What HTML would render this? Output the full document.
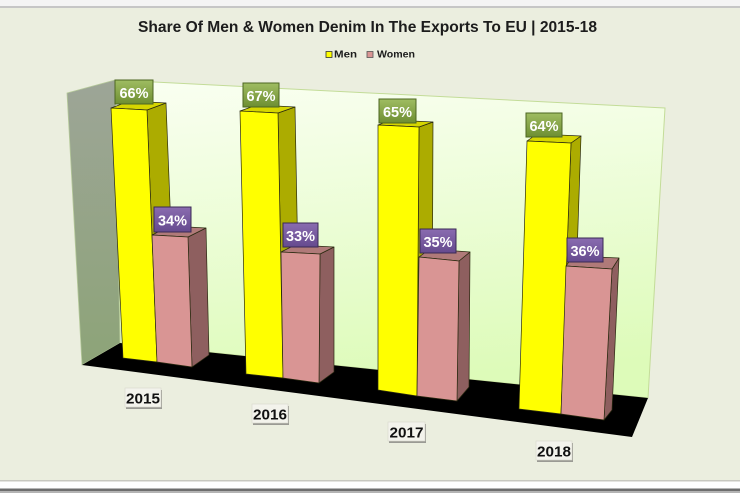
<!DOCTYPE html>
<html><head><meta charset="utf-8"><style>
html,body{margin:0;padding:0;background:#fff;}
svg{display:block;}
</style></head><body>
<svg width="740" height="493" viewBox="0 0 740 493" xmlns="http://www.w3.org/2000/svg" font-family="'Liberation Sans', sans-serif">
<defs>
<linearGradient id="bw" x1="0" y1="0" x2="0.15" y2="1">
<stop offset="0" stop-color="#fafff2"/><stop offset="1" stop-color="#ddfbb9"/>
</linearGradient>
<linearGradient id="lw" x1="0" y1="0" x2="0" y2="1">
<stop offset="0" stop-color="#9da597"/><stop offset="1" stop-color="#8da478"/>
</linearGradient>
<linearGradient id="gl" x1="0" y1="0" x2="0" y2="1">
<stop offset="0" stop-color="#9fbd62"/><stop offset="1" stop-color="#6e8e32"/>
</linearGradient>
<linearGradient id="pl" x1="0" y1="0" x2="0" y2="1">
<stop offset="0" stop-color="#8a6cb0"/><stop offset="1" stop-color="#654a8e"/>
</linearGradient>
</defs>
<!-- frame -->
<rect x="0" y="0" width="740" height="493" fill="#ffffff"/>
<rect x="0" y="0" width="740" height="6" fill="#f4f4f4"/>
<rect x="0" y="6" width="740" height="2" fill="#c6c6c6"/>
<rect x="0" y="8" width="740" height="472" fill="#ebeedf"/>
<rect x="0" y="480" width="740" height="1.5" fill="#c8c8c0"/>
<rect x="0" y="481.5" width="740" height="7" fill="#ffffff"/>
<rect x="0" y="488.5" width="740" height="2.5" fill="#6e6e6e"/>
<rect x="0" y="491" width="740" height="2" fill="#b4b4b4"/>

<!-- title -->
<text x="138" y="32" font-size="16" font-weight="bold" fill="#1c1c1c" textLength="459" lengthAdjust="spacingAndGlyphs">Share Of Men &amp; Women Denim In The Exports To EU | 2015-18</text>
<!-- legend -->
<rect x="326" y="51.5" width="6" height="6" fill="#ffff00" stroke="#333" stroke-width="0.8"/>
<text x="334" y="57.5" font-size="10" font-weight="bold" fill="#1c1c1c" textLength="23" lengthAdjust="spacingAndGlyphs">Men</text>
<rect x="367" y="51.5" width="6" height="6" fill="#d99594" stroke="#555" stroke-width="0.8"/>
<text x="377" y="57.5" font-size="10" font-weight="bold" fill="#1c1c1c" textLength="38" lengthAdjust="spacingAndGlyphs">Women</text>

<!-- walls -->
<polygon points="115,80 665,108 648,398 120,343" fill="url(#bw)" stroke="#c3dc98" stroke-width="1"/>
<polygon points="67,93 115,80 120,343 82,365" fill="url(#lw)" stroke="#b5c99a" stroke-width="0.8"/>
<polygon points="120,343 648,398 632,437 82,365" fill="#000"/>

<g stroke="#2a2a10" stroke-width="0.7" stroke-linejoin="round">
<!-- 2015 -->
<polygon points="147,110 166,103 176,355 157,362" fill="#acac00"/>
<polygon points="111,108 147,110 166,103 130,101" fill="#d6d600"/>
<polygon points="111,108 147,110 157,362 123,358" fill="#ffff00"/>
<polygon points="188,237 206,228 209,355 192,367" fill="#8e5f5f"/>
<polygon points="152,235 188,237 206,228 170,226" fill="#b07a79"/>
<polygon points="152,235 188,237 192,367 157,362" fill="#d99594"/>
<!-- 2016 -->
<polygon points="278,113 295,107 300,372 283,378" fill="#acac00"/>
<polygon points="240,111 278,113 295,107 257,105" fill="#d6d600"/>
<polygon points="240,111 278,113 283,378 246,374" fill="#ffff00"/>
<polygon points="320,254 334,247 334,372 319,383" fill="#8e5f5f"/>
<polygon points="281,252 320,254 334,247 295,245" fill="#b07a79"/>
<polygon points="281,252 320,254 319,383 283,378" fill="#d99594"/>
<!-- 2017 -->
<polygon points="419,127 433,122 432,388 417,396" fill="#acac00"/>
<polygon points="378,125 419,127 433,122 392,120" fill="#d6d600"/>
<polygon points="378,125 419,127 417,396 378,390" fill="#ffff00"/>
<polygon points="459,261 470,252 469,387 457,401" fill="#8e5f5f"/>
<polygon points="419,257 459,261 470,252 430,249" fill="#b07a79"/>
<polygon points="419,257 459,261 457,401 417,396" fill="#d99594"/>
<!-- 2018 -->
<polygon points="571,143 581,136 572,405 561,414" fill="#acac00"/>
<polygon points="527,141 571,143 581,136 537,134" fill="#d6d600"/>
<polygon points="527,141 571,143 561,414 519,409" fill="#ffff00"/>
<polygon points="612,269 619,258 612,410 604,420" fill="#8e5f5f"/>
<polygon points="566,266 612,269 619,258 573,256" fill="#b07a79"/>
<polygon points="566,266 612,269 604,420 561,414" fill="#d99594"/>
</g>

<!-- value labels -->
<g font-size="15" font-weight="bold" fill="#ffffff" text-anchor="middle">
<rect x="115" y="80" width="38" height="24" fill="url(#gl)" stroke="#4d6622" stroke-width="1"/>
<text x="134" y="98" textLength="29" lengthAdjust="spacingAndGlyphs">66%</text>
<rect x="243" y="83" width="36" height="24" fill="url(#gl)" stroke="#4d6622" stroke-width="1"/>
<text x="261" y="101" textLength="29" lengthAdjust="spacingAndGlyphs">67%</text>
<rect x="379" y="99" width="37" height="24" fill="url(#gl)" stroke="#4d6622" stroke-width="1"/>
<text x="397.5" y="117" textLength="29" lengthAdjust="spacingAndGlyphs">65%</text>
<rect x="526" y="113" width="36" height="24" fill="url(#gl)" stroke="#4d6622" stroke-width="1"/>
<text x="544" y="131" textLength="29" lengthAdjust="spacingAndGlyphs">64%</text>

<rect x="154" y="207" width="37" height="25" fill="url(#pl)" stroke="#3a2a55" stroke-width="1"/>
<text x="172.5" y="225.5" textLength="29" lengthAdjust="spacingAndGlyphs">34%</text>
<rect x="283" y="223" width="35" height="24" fill="url(#pl)" stroke="#3a2a55" stroke-width="1"/>
<text x="300.5" y="241" textLength="29" lengthAdjust="spacingAndGlyphs">33%</text>
<rect x="420" y="229" width="36" height="24" fill="url(#pl)" stroke="#3a2a55" stroke-width="1"/>
<text x="438" y="247" textLength="29" lengthAdjust="spacingAndGlyphs">35%</text>
<rect x="567" y="238" width="36" height="24" fill="url(#pl)" stroke="#3a2a55" stroke-width="1"/>
<text x="585" y="256" textLength="29" lengthAdjust="spacingAndGlyphs">36%</text>
</g>

<!-- year labels -->
<g font-size="15" font-weight="bold" fill="#111" text-anchor="middle">
<rect x="126" y="390" width="36" height="19" fill="#9a9a94"/>
<rect x="125" y="388" width="36" height="19" fill="#f3f3ec" stroke="#d8d8cc" stroke-width="0.6"/>
<text x="143" y="403.5" textLength="34" lengthAdjust="spacingAndGlyphs">2015</text>
<rect x="253" y="406" width="36" height="19" fill="#9a9a94"/>
<rect x="252" y="404" width="36" height="19" fill="#f3f3ec" stroke="#d8d8cc" stroke-width="0.6"/>
<text x="270" y="419.5" textLength="34" lengthAdjust="spacingAndGlyphs">2016</text>
<rect x="389" y="424" width="37" height="19" fill="#9a9a94"/>
<rect x="388" y="422" width="37" height="19" fill="#f3f3ec" stroke="#d8d8cc" stroke-width="0.6"/>
<text x="406.5" y="437.5" textLength="34" lengthAdjust="spacingAndGlyphs">2017</text>
<rect x="537" y="443" width="36" height="19" fill="#9a9a94"/>
<rect x="536" y="441" width="36" height="19" fill="#f3f3ec" stroke="#d8d8cc" stroke-width="0.6"/>
<text x="554" y="456.5" textLength="34" lengthAdjust="spacingAndGlyphs">2018</text>
</g>
</svg>
</body></html>
